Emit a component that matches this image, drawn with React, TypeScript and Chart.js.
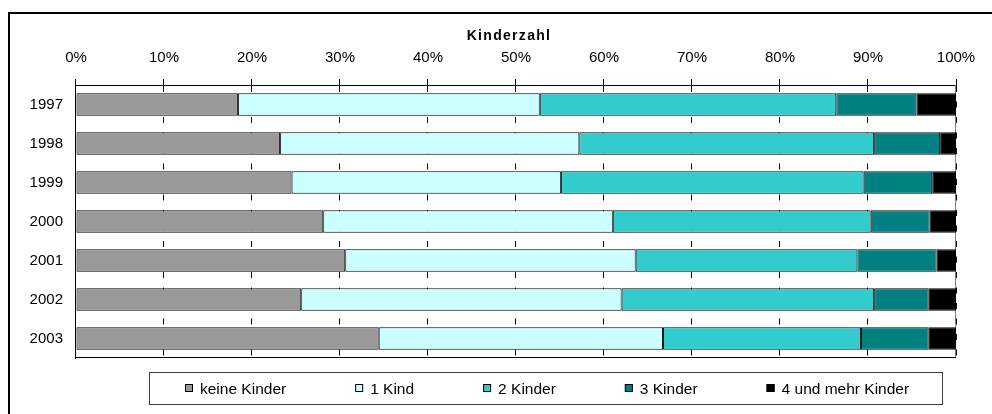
import React, { useEffect, useRef } from 'react';
import { Chart, registerables } from 'chart.js';

Chart.register(...registerables);

const years = ['1997', '1998', '1999', '2000', '2001', '2002', '2003'];
const keineKinder = [18.4, 23.2, 24.5, 28.1, 30.6, 25.6, 34.4];
const einKind = [34.3, 34.0, 30.6, 32.9, 33.0, 36.4, 32.3];
const zweiKinder = [33.7, 33.5, 34.4, 29.3, 25.2, 28.7, 22.5];
const dreiKinder = [9.1, 7.5, 7.8, 6.7, 9.0, 6.2, 7.7];
const vierUndMehr = [4.5, 1.8, 2.7, 3.0, 2.2, 3.1, 3.1];

const seriesLabels = ['keine Kinder', '1 Kind', '2 Kinder', '3 Kinder', '4 und mehr Kinder'];
const seriesColors = ['#999999', '#CCFFFF', '#33CCCC', '#008080', '#000000'];
const seriesValues = [keineKinder, einKind, zweiKinder, dreiKinder, vierUndMehr];

const titleText = 'Kinderzahl';
const FONT = '"Liberation Sans", Arial, sans-serif';

const decorPlugin = {
  id: 'decor',
  beforeDraw(chart: any) {
    const { ctx } = chart;
    ctx.save();
    ctx.fillStyle = '#ffffff';
    ctx.fillRect(0, 0, chart.width, chart.height);
    ctx.fillStyle = '#000000';
    ctx.fillRect(8, 12, chart.width - 8, 2);
    ctx.fillRect(8, 12, 2, chart.height - 12);
    ctx.restore();
  },
  beforeDatasetsDraw(chart: any) {
    const { ctx, chartArea: a } = chart;
    ctx.save();
    ctx.lineWidth = 1;
    ctx.strokeStyle = '#808080';
    ctx.beginPath();
    ctx.moveTo(Math.round(a.right) - 0.5, a.top);
    ctx.lineTo(Math.round(a.right) - 0.5, a.bottom);
    ctx.stroke();
    ctx.strokeStyle = '#000000';
    ctx.beginPath();
    ctx.moveTo(a.left, Math.round(a.bottom) - 0.5);
    ctx.lineTo(a.right, Math.round(a.bottom) - 0.5);
    ctx.stroke();
    ctx.restore();
  },
  afterDraw(chart: any) {
    const { ctx, chartArea: a } = chart;
    ctx.save();
    ctx.font = `bold 14px ${FONT}`;
    (ctx as any).letterSpacing = '1.3px';
    ctx.fillStyle = '#000000';
    ctx.textAlign = 'center';
    ctx.textBaseline = 'alphabetic';
    ctx.fillText(titleText, (a.left + a.right) / 2 - 7, 39.5);
    (ctx as any).letterSpacing = '0px';

    const boxL = Math.round(a.left) + 73;
    const boxR = Math.round(a.right) - 14;
    const boxT = Math.round(a.bottom) + 14;
    const boxH = 32;
    ctx.strokeStyle = '#404040';
    ctx.lineWidth = 1;
    ctx.strokeRect(boxL + 0.5, boxT + 0.5, boxR - boxL, boxH);

    ctx.font = `15.5px ${FONT}`;
    ctx.textAlign = 'left';
    const marker = 8;
    const markerGap = 7;
    const itemGap = 69;
    const widths = seriesLabels.map((l) => marker + markerGap + ctx.measureText(l).width);
    const total = widths.reduce((s, w) => s + w, 0) + itemGap * (widths.length - 1);
    let x = Math.round((boxL + boxR) / 2 + 2 - total / 2);
    const cy = boxT + boxH / 2;
    seriesLabels.forEach((label, i) => {
      ctx.fillStyle = seriesColors[i];
      ctx.fillRect(x, Math.round(cy - marker / 2), marker, marker);
      ctx.strokeStyle = '#000000';
      ctx.strokeRect(x + 0.5, Math.round(cy - marker / 2) + 0.5, marker - 1, marker - 1);
      ctx.fillStyle = '#000000';
      ctx.fillText(label, x + marker + markerGap, cy + 5.5);
      x += widths[i] + itemGap;
    });
    ctx.restore();
  },
};

export default function App() {
  const canvasRef = useRef<HTMLCanvasElement | null>(null);

  useEffect(() => {
    const canvas = canvasRef.current;
    if (!canvas) return;
    Chart.defaults.font.family = FONT;
    const chart = new Chart(canvas, {
      type: 'bar',
      data: {
        labels: years,
        datasets: seriesLabels.map((label, i) => ({
          label,
          data: seriesValues[i],
          backgroundColor: seriesColors[i],
          borderColor: '#000000',
          borderWidth: 1,
          borderSkipped: false,
          barPercentage: 0.58,
          categoryPercentage: 1.0,
        })),
      },
      options: {
        indexAxis: 'y',
        responsive: false,
        animation: false,
        layout: { padding: { top: 37, left: 16.6, right: 36, bottom: 56 } },
        plugins: {
          legend: { display: false },
          title: { display: false },
          tooltip: { enabled: false },
        },
        scales: {
          x: {
            type: 'linear',
            position: 'top',
            stacked: true,
            min: 0,
            max: 100,
            ticks: {
              stepSize: 10,
              padding: 12,
              color: '#000000',
              font: { size: 15 },
              callback: (v: any) => `${v}%`,
            },
            grid: {
              color: '#000000',
              lineWidth: 1,
              drawTicks: true,
              tickLength: 6,
              tickColor: '#000000',
            },
            border: { display: true, color: '#000000', width: 1, dash: [6, 9.5] },
          },
          y: {
            type: 'category',
            stacked: true,
            ticks: { padding: 13, color: '#000000', font: { size: 15 } },
            grid: { display: false, drawTicks: false },
            border: { display: true, color: '#000000', width: 1 },
          },
        },
      },
      plugins: [decorPlugin],
    });
    return () => chart.destroy();
  }, []);

  return (
    <div style={{ position: 'absolute', left: 0, top: 0, width: 992, height: 414, overflow: 'hidden' }}>
      <canvas ref={canvasRef} width={992} height={414} style={{ display: 'block' }} />
    </div>
  );
}
